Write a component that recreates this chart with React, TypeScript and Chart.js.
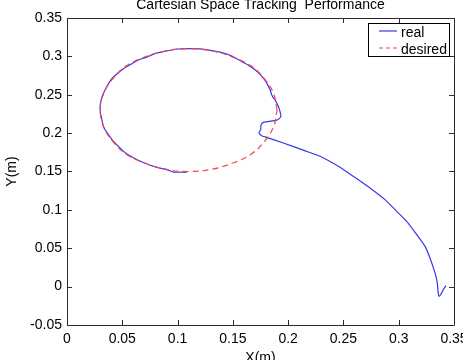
import { useEffect, useRef } from "react";
import { Chart, registerables } from "chart.js";

Chart.register(...registerables);

// Desired end-effector path: a circle in the X-Y plane (metres)
const desiredX = [0.190, 0.187, 0.179, 0.167, 0.150, 0.131, 0.110, 0.089, 0.070, 0.053, 0.041, 0.033, 0.030, 0.033, 0.041, 0.053, 0.070, 0.089, 0.110, 0.131, 0.150, 0.167, 0.179, 0.187, 0.190];
const desiredY = [0.230, 0.251, 0.270, 0.287, 0.299, 0.307, 0.310, 0.307, 0.299, 0.287, 0.270, 0.251, 0.230, 0.209, 0.190, 0.173, 0.161, 0.153, 0.150, 0.153, 0.161, 0.173, 0.190, 0.209, 0.230];

// Measured end-effector path: approach from the lower right, then tracking the circle
const realX = [
  0.3428, 0.3403, 0.3382, 0.3366, 0.3358, 0.3352, 0.3345, 0.3328, 0.3283, 0.3238,
  0.3163, 0.3072, 0.2982, 0.2876, 0.2740, 0.2635, 0.2589, 0.2454, 0.2288, 0.2168,
  0.1956, 0.1791, 0.1761, 0.1736, 0.1752, 0.1755, 0.1775, 0.1890, 0.1920, 0.1935,
  0.1926, 0.1911, 0.1881, 0.1862, 0.1851, 0.1836, 0.1805, 0.1770, 0.1710, 0.1640,
  0.1560, 0.1480, 0.1400, 0.1300, 0.1200, 0.1100, 0.1000, 0.0900, 0.0800, 0.0720,
  0.0640, 0.0560, 0.0510, 0.0450, 0.0400, 0.0365, 0.0330, 0.0310, 0.0300, 0.0302,
  0.0318, 0.0330, 0.0370, 0.0410, 0.0470, 0.0530, 0.0600, 0.0700, 0.0800, 0.0900,
  0.0965, 0.1000, 0.1085,
];
const realY = [
  0.0013, -0.0039, -0.0100, -0.0128, -0.0090, 0.0000, 0.0080, 0.0179, 0.0374, 0.0525,
  0.0678, 0.0851, 0.0981, 0.1134, 0.1286, 0.1394, 0.1437, 0.1567, 0.1698, 0.1763,
  0.1872, 0.1951, 0.1967, 0.2003, 0.2046, 0.2111, 0.2141, 0.2167, 0.2189, 0.2219,
  0.2284, 0.2349, 0.2437, 0.2470, 0.2502, 0.2567, 0.2655, 0.2725, 0.2815, 0.2885,
  0.2950, 0.3010, 0.3050, 0.3078, 0.3098, 0.3102, 0.3096, 0.3070, 0.3040, 0.2990,
  0.2950, 0.2880, 0.2840, 0.2770, 0.2700, 0.2620, 0.2520, 0.2440, 0.2350, 0.2260,
  0.2160, 0.2080, 0.1990, 0.1910, 0.1820, 0.1740, 0.1680, 0.1610, 0.1560, 0.1525,
  0.1492, 0.1490, 0.1492,
];

const xTickValues = [0, 0.05, 0.1, 0.15, 0.2, 0.25, 0.3, 0.35];
const xTickLabels = ["0", "0.05", "0.1", "0.15", "0.2", "0.25", "0.3", "0.35"];
const yTickValues = [-0.05, 0, 0.05, 0.1, 0.15, 0.2, 0.25, 0.3, 0.35];
const yTickLabels = ["-0.05", "0", "0.05", "0.1", "0.15", "0.2", "0.25", "0.3", "0.35"];

const titleText = "Cartesian Space Tracking  Performance";
const xAxisText = "X(m)";
const yAxisText = "Y(m)";
const legendNames = ["real", "desired"];

const FONT = '14px "Liberation Sans", Arial, sans-serif';
const REAL_COLOR = "rgb(55,55,235)";
const DESIRED_COLOR = "rgb(245,70,80)";
const DESIRED_DASH = [6, 4];

const toPoints = (xs: number[], ys: number[]) => xs.map((x, i) => ({ x, y: ys[i] }));

// Frame with inward ticks on all four sides, title, axis names and legend box
const matlabFrame = {
  id: "matlabFrame",
  afterDraw(chart: any) {
    const { ctx, chartArea: a, scales } = chart;
    const xs = scales.x;
    const ys = scales.y;
    const tick = 5;
    ctx.save();
    ctx.strokeStyle = "#2a2a2a";
    ctx.lineWidth = 1;
    ctx.beginPath();
    ctx.rect(Math.round(a.left) + 0.5, Math.round(a.top) + 0.5, Math.round(a.right - a.left), Math.round(a.bottom - a.top));
    xTickValues.forEach((v) => {
      const px = Math.round(xs.getPixelForValue(v)) + 0.5;
      ctx.moveTo(px, a.bottom);
      ctx.lineTo(px, a.bottom - tick);
      ctx.moveTo(px, a.top);
      ctx.lineTo(px, a.top + tick);
    });
    yTickValues.forEach((v) => {
      const py = Math.round(ys.getPixelForValue(v)) + 0.5;
      ctx.moveTo(a.left, py);
      ctx.lineTo(a.left + tick, py);
      ctx.moveTo(a.right, py);
      ctx.lineTo(a.right - tick, py);
    });
    ctx.stroke();

    ctx.fillStyle = "#000";
    ctx.font = FONT;
    ctx.textAlign = "center";
    ctx.textBaseline = "alphabetic";
    const cx = (a.left + a.right) / 2;
    ctx.fillText(titleText, cx, 8.5);
    ctx.fillText(xAxisText, cx, 362);
    ctx.save();
    ctx.translate(12, (a.top + a.bottom) / 2);
    ctx.rotate(-Math.PI / 2);
    ctx.textBaseline = "middle";
    ctx.fillText(yAxisText, 0, 0);
    ctx.restore();

    // legend
    const lx = 368.5, ly = 23.5, lw = 81, lh = 33;
    ctx.fillStyle = "#fff";
    ctx.fillRect(lx, ly, lw, lh);
    ctx.strokeStyle = "#000";
    ctx.strokeRect(lx, ly, lw, lh);
    ctx.lineWidth = 1.2;
    ctx.strokeStyle = REAL_COLOR;
    ctx.beginPath();
    ctx.moveTo(379, 31);
    ctx.lineTo(397, 31);
    ctx.stroke();
    ctx.strokeStyle = DESIRED_COLOR;
    ctx.setLineDash([4, 3]);
    ctx.beginPath();
    ctx.moveTo(379, 48);
    ctx.lineTo(397, 48);
    ctx.stroke();
    ctx.setLineDash([]);
    ctx.fillStyle = "#000";
    ctx.textAlign = "left";
    ctx.textBaseline = "alphabetic";
    ctx.fillText(legendNames[0], 401, 37);
    ctx.fillText(legendNames[1], 401, 54);
    ctx.restore();
  },
};

export default function App() {
  const canvasRef = useRef<HTMLCanvasElement | null>(null);

  useEffect(() => {
    document.body.style.margin = "0";
    document.body.style.overflow = "hidden";
    const canvas = canvasRef.current;
    if (!canvas) return;
    const chart = new Chart(canvas, {
      type: "scatter",
      data: {
        datasets: [
          {
            label: legendNames[0],
            data: toPoints(realX, realY),
            showLine: true,
            borderColor: REAL_COLOR,
            backgroundColor: REAL_COLOR,
            borderWidth: 1.2,
            pointRadius: 0,
            tension: 0.15,
            order: 1,
          },
          {
            label: legendNames[1],
            data: toPoints(desiredX, desiredY),
            showLine: true,
            borderColor: DESIRED_COLOR,
            backgroundColor: DESIRED_COLOR,
            borderWidth: 1.2,
            borderDash: DESIRED_DASH,
            pointRadius: 0,
            tension: 0.4,
            order: 0,
          },
        ],
      },
      options: {
        responsive: false,
        animation: false,
        events: [],
        layout: { padding: { left: 0, top: 18, right: 9, bottom: 0 } },
        plugins: {
          legend: { display: false },
          title: { display: false },
          tooltip: { enabled: false },
        },
        scales: {
          x: {
            type: "linear",
            min: 0,
            max: 0.35,
            grid: { display: false, drawTicks: false },
            border: { display: false },
            afterBuildTicks: (s: any) => {
              s.ticks = xTickValues.map((value) => ({ value }));
            },
            afterFit: (s: any) => {
              s.height = 35;
              s.paddingLeft = 0;
              s.paddingRight = 0;
            },
            ticks: {
              autoSkip: false,
              maxRotation: 0,
              padding: 6,
              color: "#000",
              font: { family: '"Liberation Sans", Arial, sans-serif', size: 14 },
              callback: (_v: any, i: number) => xTickLabels[i],
            },
          },
          y: {
            type: "linear",
            min: -0.05,
            max: 0.35,
            grid: { display: false, drawTicks: false },
            border: { display: false },
            afterBuildTicks: (s: any) => {
              s.ticks = yTickValues.map((value) => ({ value }));
            },
            afterFit: (s: any) => {
              s.width = 67;
              s.paddingTop = 0;
              s.paddingBottom = 0;
            },
            ticks: {
              autoSkip: false,
              padding: 5,
              color: "#000",
              font: { family: '"Liberation Sans", Arial, sans-serif', size: 14 },
              callback: (_v: any, i: number) => yTickLabels[i],
            },
          },
        },
      },
      plugins: [matlabFrame],
    });
    return () => chart.destroy();
  }, []);

  return (
    <div style={{ position: "fixed", left: 0, top: 0, width: 463, height: 360, background: "#fff" }}>
      <canvas ref={canvasRef} width={463} height={360} style={{ display: "block" }} />
    </div>
  );
}
